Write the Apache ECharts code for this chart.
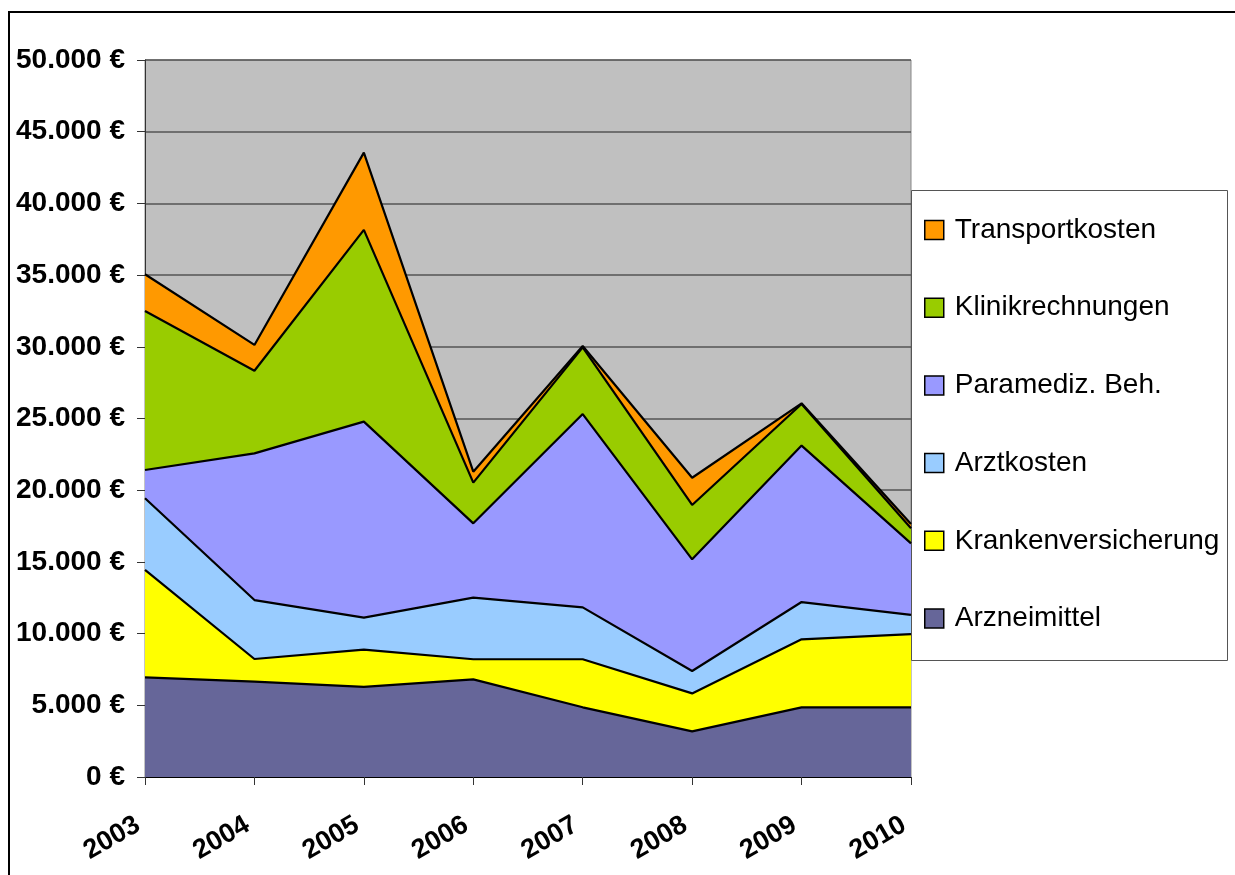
<!DOCTYPE html>
<html>
<head>
<meta charset="utf-8">
<script src="https://cdn.jsdelivr.net/npm/echarts@6/dist/echarts.min.js"></script>
<style>
  html, body { margin: 0; padding: 0; background: #fff; }
</style>
</head>
<body>
<div id="chart" style="width: 1235px; height: 875px;"></div>
<script>
// Jahre (x-Achse)
const years = ['2003', '2004', '2005', '2006', '2007', '2008', '2009', '2010'];
// Beschriftung y-Achse
const yTicks = ['0 €', '5.000 €', '10.000 €', '15.000 €', '20.000 €', '25.000 €', '30.000 €', '35.000 €', '40.000 €', '45.000 €', '50.000 €'];

// Kosten je Jahr (gestapelt, von unten nach oben)
const arzneimittel = [6950, 6650, 6280, 6810, 4860, 3180, 4860, 4860];
const krankenversicherung = [7490, 1580, 2600, 1400, 3350, 2650, 4740, 5110];
const arztkosten = [5000, 4110, 2230, 4300, 3620, 1560, 2600, 1330];
const paramediz = [1970, 10230, 13670, 5180, 13480, 7790, 10910, 4990];
const klinik = [11090, 5760, 13370, 2840, 4650, 3790, 2900, 1050];
const transport = [2560, 1800, 5390, 760, 100, 1900, 50, 300];

const chart = echarts.init(document.getElementById('chart'));

const fontFamily = '"Liberation Sans", Arial, sans-serif';

// eine Fläche im Stapel
const area = (name, color, data) => ({
  name: name,
  type: 'line',
  stack: 'kosten',
  data: data,
  color: color,
  symbol: 'none',
  lineStyle: { color: '#000', width: 2.2 },
  areaStyle: { color: color, opacity: 1 },
  emphasis: { disabled: true }
});

const option = {
  animation: false,
  graphic: [
    { // Rahmen des Diagramms
      type: 'rect',
      shape: { x: 9, y: 12, width: 1400, height: 1000 },
      style: { fill: 'none', stroke: '#000', lineWidth: 2 }
    },
    { // Rahmen der Legende
      type: 'rect',
      shape: { x: 911.5, y: 190.5, width: 316, height: 470 },
      style: { fill: '#fff', stroke: '#555', lineWidth: 1 }
    }
  ],
  grid: {
    left: 145,
    right: 324,
    top: 60,
    bottom: 98,
    show: true,
    backgroundColor: '#C0C0C0',
    borderColor: '#888',
    borderWidth: 1
  },
  legend: {
    orient: 'vertical',
    left: 911,
    top: 191,
    padding: [24, 10, 20, 13],
    itemGap: 47.7,
    itemWidth: 19,
    itemHeight: 19,
    icon: 'rect',
    itemStyle: { borderColor: '#000', borderWidth: 1.5 },
    textStyle: { fontFamily: fontFamily, fontSize: 28, color: '#000', lineHeight: 30, padding: [0, 0, 0, 6] },
    data: ['Transportkosten', 'Klinikrechnungen', 'Paramediz. Beh.', 'Arztkosten', 'Krankenversicherung', 'Arzneimittel']
  },
  xAxis: {
    type: 'category',
    data: years,
    boundaryGap: false,
    axisLine: { lineStyle: { color: '#000', width: 1 } },
    axisTick: { show: true, length: 8, lineStyle: { color: '#333' } },
    axisLabel: {
      rotate: 30,
      margin: 42,
      interval: 0,
      padding: [0, 8, 0, 0],
      fontFamily: fontFamily,
      fontSize: 27,
      fontWeight: 'bold',
      color: '#000'
    },
    splitLine: { show: false }
  },
  yAxis: {
    type: 'value',
    min: 0,
    max: 50000,
    interval: 5000,
    axisLine: { show: true, lineStyle: { color: '#333' } },
    axisTick: { show: true, length: 8, lineStyle: { color: '#333' } },
    axisLabel: {
      margin: 20,
      fontFamily: fontFamily,
      fontSize: 28,
      fontWeight: 'bold',
      color: '#000',
      padding: [4, 0, 0, 0],
      formatter: (v) => yTicks[Math.round(v / 5000)]
    },
    splitLine: { show: true, lineStyle: { color: '#555', width: 1.5 } }
  },
  series: [
    area('Arzneimittel', '#666699', arzneimittel),
    area('Krankenversicherung', '#FFFF00', krankenversicherung),
    area('Arztkosten', '#99CCFF', arztkosten),
    area('Paramediz. Beh.', '#9999FF', paramediz),
    area('Klinikrechnungen', '#99CC00', klinik),
    area('Transportkosten', '#FF9900', transport)
  ]
};

chart.setOption(option);
</script>
</body>
</html>
